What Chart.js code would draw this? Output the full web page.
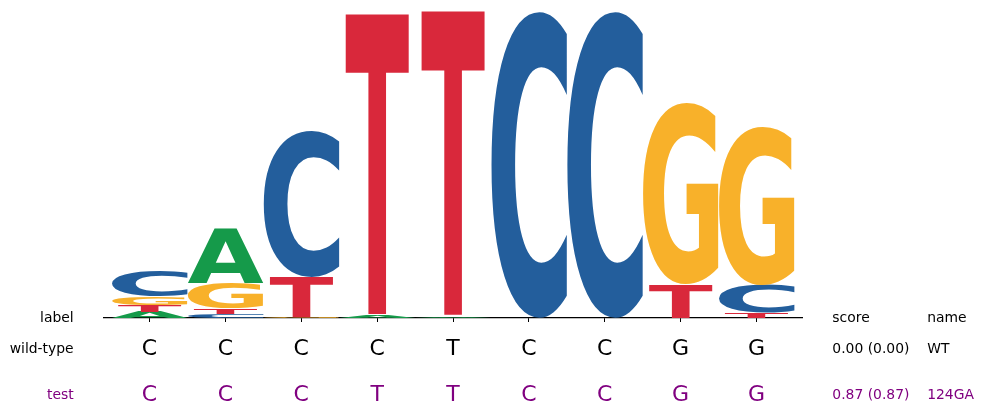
<!DOCTYPE html>
<html>
<head>
<meta charset="utf-8">
<script src="https://cdn.jsdelivr.net/npm/chart.js@4/dist/chart.umd.min.js"></script>
<style>
  html, body { margin: 0; padding: 0; background: #fff; }
  #wrap { width: 983px; height: 415px; }
</style>
</head>
<body>
<div id="wrap"><canvas id="logo"></canvas></div>
<script>
// letter heights (bits) per position
var bases = ['A', 'C', 'G', 'T'];
var heightA = [0.039, 0.358, 0, 0.013, 0.007, 0, 0, 0, 0];
var heightC = [0.163, 0.026, 0.951, 0, 0, 2.0, 2.0, 0, 0.182];
var heightG = [0.052, 0.169, 0.007, 0, 0, 0, 0, 1.186, 1.036];
var heightT = [0.046, 0.033, 0.261, 1.967, 1.993, 0, 0, 0.215, 0.033];

// sequence rows below the logo
var wildTypeSeq = ['C', 'C', 'C', 'C', 'T', 'C', 'C', 'G', 'G'];
var testSeq = ['C', 'C', 'C', 'T', 'T', 'C', 'C', 'G', 'G'];
var rowLabels = ['wild-type', 'test'];
var rowScores = ['0.00 (0.00)', '0.87 (0.87)'];
var rowNames = ['WT', '124GA'];

var baseColors = { A: '#159a4a', C: '#235e9c', G: '#f8b12a', T: '#d9283b' };
var widthFactor = { A: 1, C: 1, G: 1, T: 0.84 };

document.addEventListener('DOMContentLoaded', function () {
    var heights = { A: heightA, C: heightC, G: heightG, T: heightT };
    var nPos = wildTypeSeq.length;

    // stack smallest letter at bottom: dataset k holds the k-th smallest letter of each column
    var ranked = [];
    for (var i = 0; i < nPos; i++) {
        var col = bases.map(function (b) { return { b: b, v: heights[b][i] }; })
            .filter(function (o) { return o.v > 0; })
            .sort(function (a, b) { return a.v - b.v; });
        ranked.push(col);
    }
    var datasets = [];
    for (var k = 0; k < bases.length; k++) {
        var data = [], letters = [];
        for (var i = 0; i < nPos; i++) {
            var o = ranked[i][k];
            data.push({ x: i, y: o ? o.v : 0 });
            letters.push(o ? o.b : null);
        }
        datasets.push({
            label: 'rank' + k,
            data: data,
            letters: letters,
            backgroundColor: 'rgba(0,0,0,0)',
            borderWidth: 0,
            barPercentage: 1,
            categoryPercentage: 1
        });
    }

    function drawGlyph(ctx, ch, color, cx, w, top, bottom) {
        if (bottom - top < 0.3) return;
        ctx.save();
        ctx.font = 'bold 200px "DejaVu Sans"';
        ctx.textAlign = 'left';
        ctx.textBaseline = 'alphabetic';
        var m = ctx.measureText(ch);
        var inkW = m.actualBoundingBoxLeft + m.actualBoundingBoxRight;
        var inkH = m.actualBoundingBoxAscent + m.actualBoundingBoxDescent;
        var gw = w * widthFactor[ch];
        ctx.translate(cx - gw / 2, bottom);
        ctx.scale(gw / inkW, (bottom - top) / inkH);
        ctx.fillStyle = color;
        ctx.fillText(ch, m.actualBoundingBoxLeft, -m.actualBoundingBoxDescent);
        ctx.restore();
    }

    var glyphPlugin = {
        id: 'glyphs',
        afterDatasetsDraw: function (chart) {
            var ctx = chart.ctx;
            chart.data.datasets.forEach(function (ds, di) {
                chart.getDatasetMeta(di).data.forEach(function (bar, i) {
                    var ch = ds.letters[i];
                    if (!ch) return;
                    var p = bar.getProps(['x', 'y', 'base', 'width'], true);
                    drawGlyph(ctx, ch, baseColors[ch], p.x, p.width, Math.min(p.y, p.base), Math.max(p.y, p.base));
                });
            });
        }
    };

    var tablePlugin = {
        id: 'seqTable',
        afterDraw: function (chart) {
            var ctx = chart.ctx;
            var xs = chart.scales.x;
            var small = '13.9px "DejaVu Sans"';
            var big = '22px "DejaVu Sans"';
            var rowY = [349, 395];
            var rowColor = ['#000000', '#800080'];
            var seqs = [wildTypeSeq, testSeq];
            ctx.save();
            ctx.textBaseline = 'middle';

            ctx.font = small;
            ctx.fillStyle = '#000';
            ctx.textAlign = 'right';
            ctx.fillText('label', xs.getPixelForValue(-1.0), 318);
            ctx.textAlign = 'left';
            ctx.fillText('score', xs.getPixelForValue(9), 318);
            ctx.fillText('name', xs.getPixelForValue(10.25), 318);

            for (var r = 0; r < seqs.length; r++) {
                ctx.fillStyle = rowColor[r];
                ctx.font = small;
                ctx.textAlign = 'right';
                ctx.fillText(rowLabels[r], xs.getPixelForValue(-1.0), rowY[r]);
                ctx.textAlign = 'left';
                ctx.fillText(rowScores[r], xs.getPixelForValue(9), rowY[r]);
                ctx.fillText(rowNames[r], xs.getPixelForValue(10.25), rowY[r]);
                ctx.font = big;
                ctx.textAlign = 'center';
                seqs[r].forEach(function (s, i) {
                    ctx.fillText(s, xs.getPixelForValue(i), rowY[r]);
                });
            }
            ctx.restore();
        }
    };

    var canvas = document.getElementById('logo').getContext('2d');
    new Chart(canvas, {
        type: 'bar',
        data: { datasets: datasets },
        options: {
            responsive: true,
            maintainAspectRatio: false,
            animation: false,
            layout: { padding: { left: 104, right: 181, top: 11, bottom: 93 } },
            scales: {
                x: {
                    type: 'linear',
                    stacked: true,
                    min: -0.6,
                    max: 8.6,
                    offset: false,
                    afterBuildTicks: function (scale) {
                        scale.ticks = wildTypeSeq.map(function (_, i) { return { value: i }; });
                    },
                    afterFit: function (scale) { scale.height = 4; },
                    ticks: { display: false },
                    grid: { display: true, offset: false, drawOnChartArea: false, drawTicks: true, tickLength: 4, color: '#000', lineWidth: 1 },
                    border: { display: true, color: '#000', width: 1.2 }
                },
                y: {
                    display: false,
                    stacked: true,
                    min: 0,
                    max: 2.0
                }
            },
            plugins: {
                legend: { display: false },
                tooltip: { enabled: false }
            }
        },
        plugins: [glyphPlugin, tablePlugin]
    });
});
</script>
</body>
</html>
